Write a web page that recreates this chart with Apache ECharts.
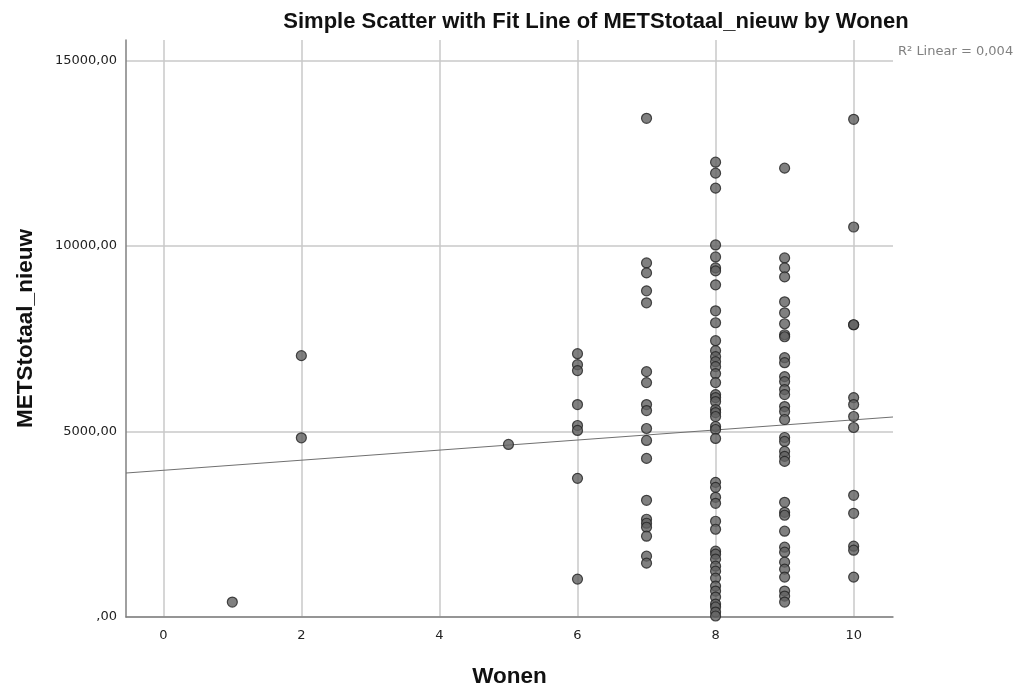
<!DOCTYPE html>
<html><head><meta charset="utf-8">
<script src="https://cdn.jsdelivr.net/npm/echarts@6/dist/echarts.min.js"></script>
<style>html,body{margin:0;padding:0;background:#fff}#c{width:1020px;height:693px}</style>
</head><body><div id="c"></div>
<script>
const xTicks = [0, 2, 4, 6, 8, 10];
const yTicks = [0, 5000, 10000, 15000];
const mets_w1 = [403];
const mets_w2 = [7043, 4830];
const mets_w5 = [4650];
const mets_w6 = [7096, 6800, 6640, 5725, 5161, 5027, 3736, 1021];
const mets_w7 = [13440, 9542, 9274, 8790, 8467, 6612, 6317, 5725, 5564, 5080, 4758, 4274, 3145, 2634, 2527, 2419, 2177, 1640, 1451];
const mets_w8 = [12257, 11962, 11558, 10026, 9704, 9408, 9327, 8951, 8252, 7930, 7446, 7177, 7016, 6881, 6747, 6559, 6317, 5994, 5913, 5806, 5591, 5510, 5403, 5134, 5053, 4812, 3629, 3494, 3226, 3064, 2580, 2365, 1774, 1693, 1559, 1371, 1236, 1048, 833, 699, 537, 349, 269, 134, 27];
const mets_w9 = [12096, 9677, 9408, 9166, 8494, 8198, 7903, 7607, 7553, 6989, 6854, 6478, 6344, 6129, 5994, 5672, 5537, 5322, 4838, 4731, 4462, 4328, 4193, 3091, 2822, 2742, 2312, 1882, 1747, 1478, 1290, 1075, 699, 564, 403];
const mets_w10 = [13413, 10510, 7876, 7876, 5913, 5725, 5403, 5107, 3279, 2795, 1908, 1801, 1075];
const fitLineX = [-0.54, 10.57];
const fitLineY = [3880, 5390];

const groups = [[1, mets_w1], [2, mets_w2], [5, mets_w5], [6, mets_w6], [7, mets_w7], [8, mets_w8], [9, mets_w9], [10, mets_w10]];
const points = [];
groups.forEach(([w, arr]) => arr.forEach(v => points.push([w, v])));
const fitData = fitLineX.map((x, i) => [x, fitLineY[i]]);

const FONT = '"Liberation Sans", Arial, sans-serif';
const TICKFONT = '"DejaVu Sans", sans-serif';
const chart = echarts.init(document.getElementById('c'), null, {renderer: 'canvas'});
chart.setOption({
  backgroundColor: '#fff',
  animation: false,
  title: {
    text: 'Simple Scatter with Fit Line of METStotaal_nieuw by Wonen',
    left: 591, top: 6, textAlign: 'center',
    textStyle: {fontFamily: FONT, fontSize: 22, fontWeight: 'bold', color: '#111'}
  },
  grid: {left: 126, right: 127, top: 40, bottom: 75},
  xAxis: {
    type: 'value', min: -0.54, max: 10.57,
    name: 'Wonen', nameLocation: 'middle', nameGap: 48,
    nameTextStyle: {fontFamily: FONT, fontSize: 22.5, fontWeight: 'bold', color: '#111'},
    axisLine: {show: true, onZero: false, lineStyle: {color: '#808080', width: 1.5}},
    axisTick: {show: false, customValues: xTicks},
    axisLabel: {customValues: xTicks, margin: 12, fontFamily: TICKFONT, fontSize: 13, color: '#222'},
    splitLine: {show: true, lineStyle: {color: '#c8c8c8', width: 1.5}}
  },
  yAxis: {
    type: 'value', min: 0, max: 15550,
    name: 'METStotaal_nieuw', nameLocation: 'middle', nameGap: 89,
    nameTextStyle: {fontFamily: FONT, fontSize: 22.5, fontWeight: 'bold', color: '#111'},
    axisLine: {show: true, onZero: false, lineStyle: {color: '#808080', width: 1.5}},
    axisTick: {show: false, customValues: yTicks},
    axisLabel: {customValues: yTicks, margin: 9, fontFamily: TICKFONT, fontSize: 13, color: '#222',
      formatter: v => v === 0 ? ',00' : v + ',00'},
    splitLine: {show: true, lineStyle: {color: '#c8c8c8', width: 1.5}}
  },
  graphic: [{
    type: 'text', left: 898, top: 45,
    style: {text: 'R² Linear = 0,004', fontFamily: TICKFONT, fontSize: 13, fill: '#808080'}
  }],
  series: [
    {
      type: 'line', data: fitData, symbol: 'none', silent: true,
      lineStyle: {color: '#707070', width: 1}, z: 1
    },
    {
      type: 'scatter', data: points, symbolSize: 10,
      itemStyle: {color: '#606060', borderColor: '#222', borderWidth: 1.2}, z: 2
    }
  ]
});
</script></body></html>
